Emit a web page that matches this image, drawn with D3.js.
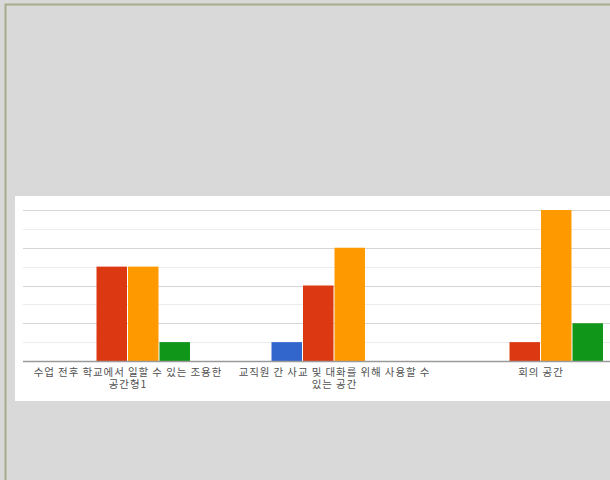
<!DOCTYPE html>
<html>
<head>
<meta charset="utf-8">
<script src="https://cdn.jsdelivr.net/npm/d3@7"></script>
<style>
  body { margin: 0; background: #d9d9d9; }
  svg { display: block; }
</style>
</head>
<body>
<div class="chart"></div>
<script>
// category labels, each split into lines as in the picture
var categories = ["c1", "c2", "c3"];
var labelLines = [
  ["수업 전후 학교에서 일할 수 있는 조용한", "공간형1"],
  ["교직원 간 사교 및 대화를 위해 사용할 수", "있는 공간"],
  ["회의 공간"]
];
var series = ["s1", "s2", "s3", "s4"];
var colors = ["#3366cc", "#dc3912", "#ff9900", "#109618"];
var values = [
  [0, 5, 5, 1],
  [1, 4, 6, 0],
  [0, 1, 8, 2]
];
var yTicks = [0, 1, 2, 3, 4, 5, 6, 7, 8];

var svgWidth = 610;
var svgHeight = 480;

var svg = d3.select(".chart")
  .append("svg")
  .attr("width", svgWidth)
  .attr("height", svgHeight);

// outer frame
svg.append("rect")
  .attr("x", 0).attr("y", 0)
  .attr("width", svgWidth).attr("height", svgHeight)
  .attr("fill", "#d9d9d9");
svg.append("rect")
  .attr("x", 5.5).attr("y", 4.5)
  .attr("width", svgWidth + 10).attr("height", svgHeight + 10)
  .attr("fill", "none")
  .attr("stroke", "#a7ac8b")
  .attr("stroke-width", 2);

// white chart panel
svg.append("rect")
  .attr("x", 15).attr("y", 196)
  .attr("width", svgWidth - 15).attr("height", 205)
  .attr("fill", "#ffffff");

var chartLeft = 23;
var x0 = d3.scaleBand()
  .domain(categories)
  .range([24.75, 644.25])
  .paddingInner(0.39)
  .paddingOuter(0.195);

var x1 = d3.scaleBand()
  .domain(series)
  .range([0, x0.bandwidth()]);

var y = d3.scaleLinear()
  .domain([0, 8])
  .range([361, 210]);

// gridlines
svg.append("g").selectAll("line")
  .data(yTicks.filter(d => d > 0))
  .enter()
  .append("line")
  .attr("x1", chartLeft)
  .attr("x2", svgWidth)
  .attr("y1", d => Math.round(y(d)) + 0.5)
  .attr("y2", d => Math.round(y(d)) + 0.5)
  .attr("stroke", d => d % 2 === 0 ? "#d6d6d6" : "#ececec")
  .attr("stroke-width", 1);

// bars
var groups = svg.append("g").selectAll("g")
  .data(categories)
  .enter()
  .append("g")
  .attr("transform", d => `translate(${x0(d)},0)`);

groups.selectAll("rect")
  .data((d, i) => values[i].map((v, j) => ({ s: series[j], v: v, c: colors[j] })))
  .enter()
  .filter(d => d.v > 0)
  .append("rect")
  .attr("x", d => x1(d.s))
  .attr("width", x1.bandwidth() - 1)
  .attr("y", d => y(d.v))
  .attr("height", d => y(0) - y(d.v))
  .attr("fill", d => d.c);

// baseline
svg.append("line")
  .attr("x1", chartLeft)
  .attr("x2", svgWidth)
  .attr("y1", y(0) + 0.5)
  .attr("y2", y(0) + 0.5)
  .attr("stroke", "#9a9a9a")
  .attr("stroke-width", 1.3);

// category labels
var labels = svg.append("g")
  .attr("font-family", "'Noto Sans CJK KR', 'Noto Sans', sans-serif")
  .attr("font-size", 10.5)
  .attr("letter-spacing", 0.9)
  .attr("fill", "#505050")
  .attr("text-anchor", "middle");

categories.forEach(function(c, i) {
  labels.append("g").selectAll("text")
    .data(labelLines[i])
    .enter()
    .append("text")
    .attr("x", x0(c) + x0.bandwidth() / 2)
    .attr("y", (d, k) => 375.5 + k * 12)
    .text(d => d);
});
</script>
</body>
</html>
